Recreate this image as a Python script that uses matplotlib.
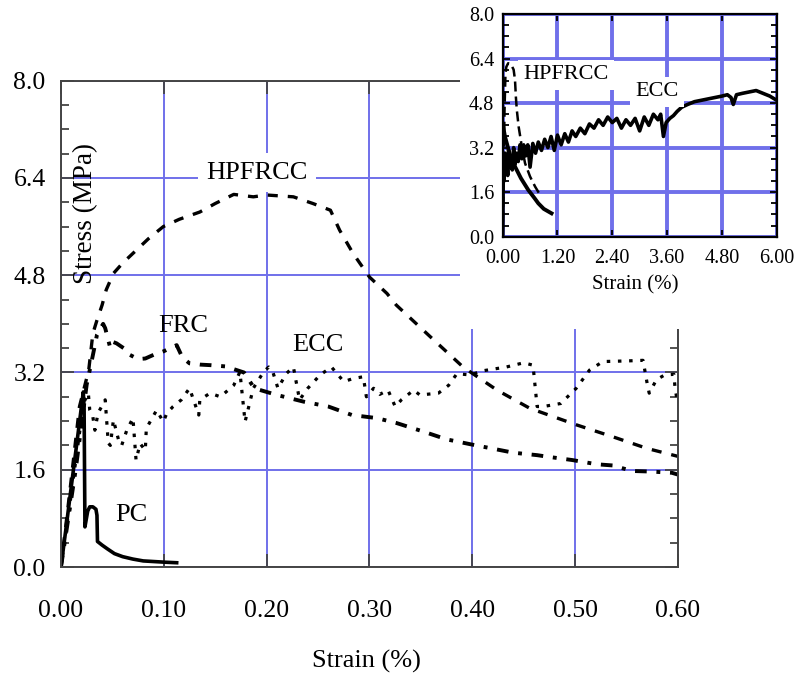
import matplotlib.pyplot as plt
from matplotlib.patches import Rectangle
from matplotlib.ticker import MultipleLocator, FormatStrFormatter

plt.rcParams['font.family'] = ['Liberation Serif', 'DejaVu Serif']

# ---- main plot: strain (%) vs stress (MPa) ----
pc_strain = [0.0, 0.005, 0.010, 0.015, 0.0217, 0.0225, 0.0233, 0.026, 0.028, 0.031,
             0.034, 0.035, 0.0355, 0.040, 0.045, 0.052, 0.060, 0.070, 0.080, 0.090,
             0.100, 0.1125]
pc_stress = [0.0, 0.65, 1.32, 1.98, 2.88, 2.6, 0.66, 0.92, 0.99, 0.99,
             0.95, 0.85, 0.42, 0.36, 0.30, 0.22, 0.17, 0.13, 0.10, 0.09,
             0.08, 0.07]

frc_strain = [0.0, 0.0143, 0.025, 0.028, 0.030, 0.033, 0.035, 0.041, 0.043, 0.048,
              0.051, 0.054, 0.061, 0.064, 0.067, 0.075, 0.082, 0.090, 0.100, 0.106,
              0.1125, 0.118, 0.125, 0.135, 0.146, 0.160, 0.178, 0.188, 0.210, 0.236,
              0.260, 0.283, 0.307, 0.326, 0.352, 0.375, 0.398, 0.419, 0.440, 0.463,
              0.475, 0.497, 0.521, 0.537, 0.555, 0.574, 0.594, 0.600]
frc_stress = [0.0, 1.6, 3.0, 3.24, 3.4, 3.65, 3.82, 4.0, 3.93, 3.6,
              3.7, 3.68, 3.6, 3.52, 3.49, 3.42, 3.43, 3.49, 3.55, 3.6,
              3.65, 3.45, 3.35, 3.33, 3.32, 3.3, 3.2, 2.94, 2.83, 2.72,
              2.64, 2.5, 2.45, 2.37, 2.23, 2.1, 2.02, 1.95, 1.88, 1.84,
              1.81, 1.76, 1.69, 1.67, 1.58, 1.57, 1.55, 1.52]

hpfrcc_strain = [0.0, 0.009, 0.018, 0.027, 0.031, 0.035, 0.040, 0.044, 0.051, 0.060,
                 0.070, 0.085, 0.0995, 0.115, 0.135, 0.150, 0.168, 0.187, 0.200, 0.226,
                 0.245, 0.262, 0.271, 0.284, 0.300, 0.317, 0.326, 0.359, 0.391, 0.424,
                 0.456, 0.501, 0.537, 0.570, 0.600]
hpfrcc_stress = [0.0, 1.3, 2.64, 3.24, 3.84, 4.06, 4.31, 4.56, 4.83, 5.0,
                 5.16, 5.4, 5.6, 5.72, 5.84, 5.98, 6.13, 6.09, 6.12, 6.09,
                 5.98, 5.87, 5.54, 5.16, 4.77, 4.5, 4.31, 3.79, 3.29, 2.91,
                 2.61, 2.34, 2.14, 1.95, 1.82]

ecc_strain = [0.0, 0.008, 0.016, 0.022, 0.0266, 0.028, 0.031, 0.033, 0.036, 0.043,
              0.046, 0.048, 0.051, 0.056, 0.059, 0.064, 0.070, 0.073, 0.077, 0.082,
              0.083, 0.093, 0.0995, 0.103, 0.109, 0.117, 0.125, 0.134, 0.135, 0.145,
              0.155, 0.168, 0.174, 0.179, 0.187, 0.197, 0.202, 0.206, 0.211, 0.219,
              0.226, 0.232, 0.240, 0.252, 0.263, 0.275, 0.284, 0.294, 0.297, 0.304,
              0.310, 0.318, 0.325, 0.331, 0.343, 0.349, 0.367, 0.377, 0.385, 0.398,
              0.411, 0.433, 0.450, 0.459, 0.463, 0.469, 0.486, 0.501, 0.514, 0.527,
              0.550, 0.566, 0.570, 0.572, 0.579, 0.587, 0.596, 0.597, 0.599]
ecc_stress = [0.0, 0.95, 1.95, 2.7, 2.86, 2.58, 2.47, 2.25, 2.53, 2.75,
              2.04, 2.0, 2.42, 2.09, 2.0, 2.25, 2.45, 1.76, 2.03, 1.92,
              2.28, 2.58, 2.39, 2.53, 2.64, 2.75, 2.94, 2.5, 2.75, 2.86,
              2.8, 2.99, 3.21, 2.39, 2.94, 3.21, 3.29, 3.21, 2.94, 3.18,
              3.29, 2.75, 2.94, 3.16, 3.29, 3.05, 3.1, 3.13, 2.8, 2.94,
              2.84, 2.91, 2.64, 2.75, 2.91, 2.83, 2.86, 2.99, 3.18, 3.16,
              3.23, 3.29, 3.36, 3.32, 2.64, 2.64, 2.69, 2.94, 3.24, 3.38,
              3.39, 3.4, 3.02, 2.86, 3.08, 3.16, 3.17, 2.97, 2.75]

# ---- inset: full strain range ----
inset_ecc_strain = [0.00, 0.01, 0.02, 0.03, 0.05, 0.07, 0.09, 0.11, 0.13, 0.15,
                    0.18, 0.21, 0.24, 0.27, 0.30, 0.34, 0.38, 0.42, 0.46, 0.50,
                    0.55, 0.60, 0.66, 0.72, 0.78, 0.85, 0.92, 0.99, 1.06, 1.13,
                    1.20, 1.28, 1.36, 1.44, 1.52, 1.60, 1.70, 1.80, 1.90, 2.00,
                    2.10, 2.20, 2.30, 2.40, 2.50, 2.60, 2.70, 2.80, 2.90, 3.00,
                    3.10, 3.20, 3.30, 3.40, 3.46, 3.52, 3.58, 3.66, 3.74, 3.82,
                    3.92, 4.05, 4.20, 4.35, 4.50, 4.65, 4.80, 4.92, 5.00, 5.05,
                    5.12, 5.25, 5.40, 5.55, 5.70, 5.85, 6.00]
inset_ecc_stress = [0.0, 1.9, 2.6, 2.0, 3.0, 2.3, 2.9, 2.2, 3.1, 2.5,
                    2.9, 2.4, 3.2, 2.6, 3.0, 2.7, 3.3, 2.8, 3.3, 2.9,
                    3.3, 2.5, 3.35, 3.0, 3.4, 3.1, 3.5, 3.2, 3.6, 3.1,
                    3.65, 3.3, 3.7, 3.4, 3.8, 3.6, 3.9, 3.7, 4.05, 3.9,
                    4.2, 4.0, 4.3, 4.1, 4.25, 3.9, 4.2, 4.0, 4.25, 3.8,
                    4.3, 4.0, 4.4, 4.2, 4.4, 3.6, 4.1, 4.25, 4.35, 4.5,
                    4.65, 4.75, 4.85, 4.9, 4.95, 5.0, 5.05, 5.1, 5.0, 4.75,
                    5.1, 5.15, 5.2, 5.25, 5.15, 5.05, 4.9]

inset_hpfrcc_strain = [0.0, 0.02, 0.04, 0.06, 0.08, 0.12, 0.18, 0.24, 0.27, 0.29,
                       0.31, 0.35, 0.42, 0.49, 0.60, 0.71, 0.82]
inset_hpfrcc_stress = [0.0, 2.0, 4.5, 5.8, 6.1, 6.23, 6.2, 6.0, 5.63, 5.0,
                       4.55, 3.95, 3.23, 2.64, 2.16, 1.8, 1.5]

inset_drop_strain = [0.0, 0.05, 0.15, 0.27, 0.40, 0.56, 0.70, 0.78, 0.90, 1.07]
inset_drop_stress = [4.05, 3.6, 3.0, 2.52, 2.1, 1.68, 1.38, 1.2, 1.0, 0.84]

grid_blue = '#7070ea'
spine_grey = '#444444'

fig = plt.figure(figsize=(7.97, 6.75), dpi=100)

# main axes
ax = fig.add_axes([0.0765, 0.16, 0.7742, 0.7204])
ax.set_xlim(0, 0.6)
ax.set_ylim(0, 8.0)
ax.set_xticks([0.0, 0.1, 0.2, 0.3, 0.4, 0.5, 0.6])
ax.set_yticks([0.0, 1.6, 3.2, 4.8, 6.4, 8.0])
ax.yaxis.set_minor_locator(MultipleLocator(0.4))
ax.xaxis.set_major_formatter(FormatStrFormatter('%.2f'))
ax.yaxis.set_major_formatter(FormatStrFormatter('%.1f'))
ax.tick_params(which='both', direction='in', top=True, right=True, color=spine_grey, width=1.3)
ax.tick_params(which='major', length=9.5, labelsize=18.5)
ax.tick_params(which='minor', length=5.8)
ax.tick_params(axis='x', pad=24)
ax.tick_params(axis='y', pad=11)
for s in ax.spines.values():
    s.set_color(spine_grey)
    s.set_linewidth(1.4)
ax.grid(True, color=grid_blue, lw=1.4)
ax.set_axisbelow(True)

ax.plot(pc_strain, pc_stress, color='black', lw=2.6, solid_joinstyle='round')
ax.plot(frc_strain, frc_stress, color='black', lw=2.8, linestyle=(0, (3, 2.5, 1, 2.5)))
ax.plot(hpfrcc_strain, hpfrcc_stress, color='black', lw=2.4, linestyle=(0, (3, 3)))
ax.plot(ecc_strain, ecc_stress, color='black', lw=2.3, linestyle=(0, (1.1, 2.4)))

white_box = dict(facecolor='white', edgecolor='none', pad=6)
ax.text(0.1906, 6.49, 'HPFRCC', fontsize=19, ha='center', va='center', bbox=white_box)
ax.text(0.1186, 3.97, 'FRC', fontsize=19, ha='center', va='center')
ax.text(0.25, 3.65, 'ECC', fontsize=19, ha='center', va='center', bbox=white_box)
ax.text(0.068, 0.86, 'PC', fontsize=19, ha='center', va='center')

ax.set_xlabel('Strain (%)', fontsize=19)
ax.xaxis.set_label_coords(0.495, -0.195)
ax.xaxis.label.set_va('center')
ax.set_ylabel('Stress (MPa)', fontsize=19.5)
ax.yaxis.set_label_coords(0.04, 0.726)
ax.yaxis.label.set_va('center')

# white area behind the inset
fig.add_artist(Rectangle((0.5772, 0.5126), 1, 1, transform=fig.transFigure,
                         facecolor='white', edgecolor='none', zorder=1))

# inset axes
ins = fig.add_axes([0.6307, 0.6493, 0.3438, 0.33])
ins.set_zorder(2)
ins.set_xlim(0, 6.0)
ins.set_ylim(0, 8.0)
ins.set_xticks([0.0, 1.2, 2.4, 3.6, 4.8, 6.0])
ins.set_yticks([0.0, 1.6, 3.2, 4.8, 6.4, 8.0])
ins.yaxis.set_minor_locator(MultipleLocator(0.4))
ins.xaxis.set_major_formatter(FormatStrFormatter('%.2f'))
ins.yaxis.set_major_formatter(FormatStrFormatter('%.1f'))
ins.tick_params(which='both', direction='in', top=True, right=True, width=1.3, labelsize=14.5)
ins.tick_params(which='major', length=5)
ins.tick_params(which='minor', length=4)
ins.tick_params(axis='x', pad=9)
ins.tick_params(axis='y', pad=6)
for s in ins.spines.values():
    s.set_linewidth(1.6)
ins.grid(True, color=grid_blue, lw=2.8)
ins.set_axisbelow(True)

ins.plot(inset_ecc_strain, inset_ecc_stress, color='black', lw=2.6)
ins.plot(inset_hpfrcc_strain, inset_hpfrcc_stress, color='black', lw=1.8, linestyle=(0, (4, 2)))
ins.plot(inset_drop_strain, inset_drop_stress, color='black', lw=2.8)

ins.text(1.386, 5.81, 'HPFRCC', fontsize=16, ha='center', va='center',
         bbox=dict(facecolor='white', edgecolor='none', pad=4))
ins.text(3.38, 5.2, 'ECC', fontsize=16, ha='center', va='center',
         bbox=dict(facecolor='white', edgecolor='none', pad=4))
ins.set_xlabel('Strain (%)', fontsize=15)
ins.xaxis.set_label_coords(0.485, -0.217)
ins.xaxis.label.set_va('center')

fig.savefig('out.png', dpi=100)
